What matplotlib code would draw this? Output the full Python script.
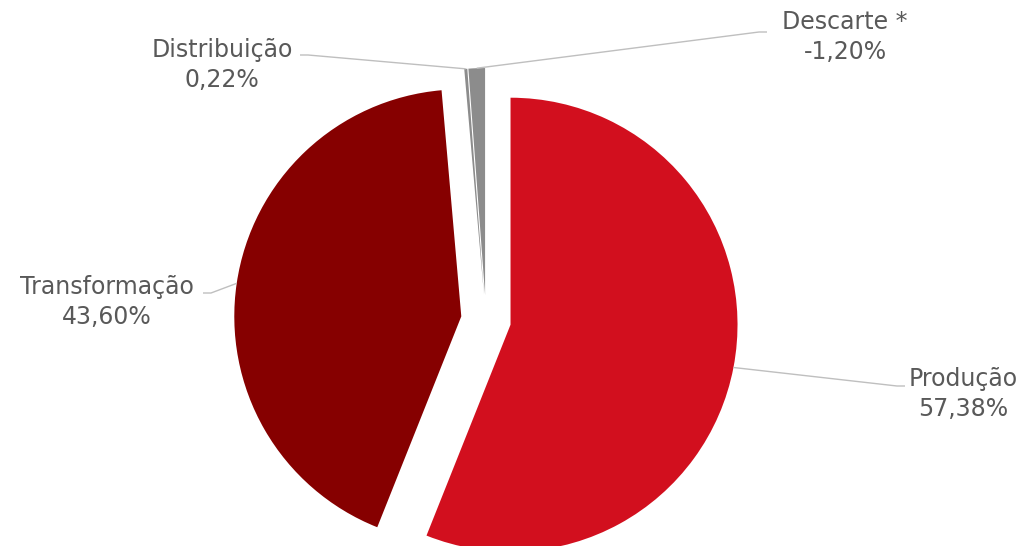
import numpy as np
import matplotlib.pyplot as plt

# Participação por etapa (Descarte é negativo; a pizza usa o valor absoluto)
etapas = ['Produção', 'Transformação', 'Distribuição', 'Descarte *']
valores = [57.38, 43.60, 0.22, -1.20]
cores = ['#D20F1E', '#860000', '#8C8C8C', '#8C8C8C']

# posição dos rótulos (centro do texto) e lado por onde entra a linha guia
pos_rotulos = [(963, 394), (107, 302), (222, 65), (845, 37)]
lado_linha = [(905, 386), (203, 293), (300, 55), (767, 32)]

W, H = 1026, 546
R = 227.0          # raio em pixels
cx, cy = 486, 320  # centro da pizza em pixels
afast = 0.11


def px(x, y):
    return (x - cx) / R, (cy - y) / R


fig = plt.figure(figsize=(W / 100, H / 100), dpi=100)
ax = fig.add_axes([0, 0, 1, 1])

abs_vals = np.abs(valores)
wedges, _ = ax.pie(abs_vals, colors=cores, startangle=90, counterclock=False,
                   explode=[afast] * len(valores), radius=1.0,
                   wedgeprops=dict(linewidth=0))

ax.set_xlim(-cx / R, (W - cx) / R)
ax.set_ylim(-(H - cy) / R, cy / R)
ax.set_aspect('equal')
ax.axis('off')

for w, nome, v, (tx, ty), (lx, ly) in zip(wedges, etapas, valores, pos_rotulos, lado_linha):
    ang = np.deg2rad((w.theta1 + w.theta2) / 2)
    ancora = ((1 + afast) * np.cos(ang), (1 + afast) * np.sin(ang))
    x0, y0 = px(lx, ly)
    passo = 8 / R if ancora[0] > x0 else -8 / R
    ax.plot([x0, x0 + passo, ancora[0]], [y0, y0, ancora[1]],
            color='#BFBFBF', lw=1.0, solid_capstyle='butt')
    rotulo = f'{nome}\n{v:.2f}%'.replace('.', ',')
    ax.text(*px(tx, ty), rotulo, ha='center', va='center', fontsize=17,
            color='#595959', linespacing=1.3, family='DejaVu Sans')

fig.savefig('out.png', dpi=100, facecolor='white')
